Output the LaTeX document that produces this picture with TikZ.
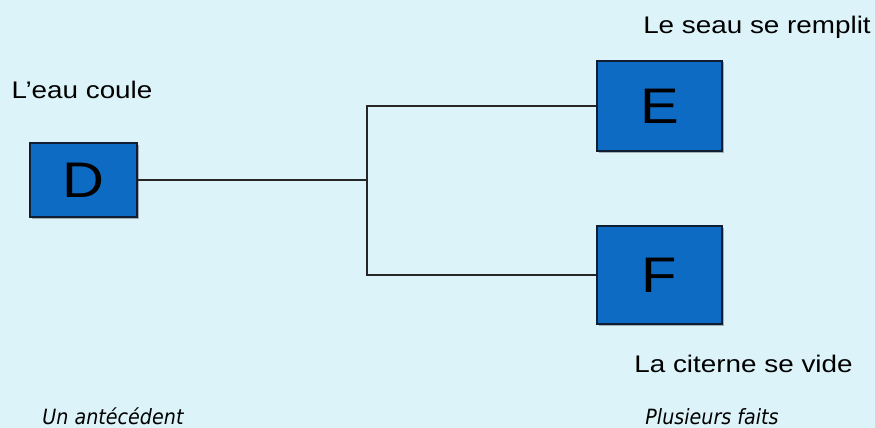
\documentclass[tikz,border=0pt]{standalone}
\usepackage{fontspec}
\usepackage{tikz}
\usetikzlibrary{positioning, calc, shadows}
\newfontfamily\labelfont[FakeStretch=1.16]{Liberation Sans}
\newfontfamily\notefont[FakeStretch=0.91]{DejaVu Sans}
\definecolor{bgCyan}{RGB}{220,244,249}
\definecolor{boxBlue}{RGB}{14,107,196}
\definecolor{boxEdge}{RGB}{15,30,50}

\tikzset{
    factbox/.style={draw=boxEdge, line width=1.2pt, fill=boxBlue, inner sep=0pt,
      drop shadow={shadow xshift=1.5pt, shadow yshift=-1.5pt, fill=gray, opacity=0.6},
      font=\labelfont\fontsize{50}{52}\selectfont},
    caption/.style={anchor=base, font=\labelfont\fontsize{24}{28}\selectfont},
    note/.style={anchor=base, font=\notefont\itshape\fontsize{21}{24}\selectfont},
    link/.style={line width=1.2pt, draw=black!85}
}

\begin{document}
\begin{tikzpicture}[x=1pt, y=-1pt]
    \fill[bgCyan] (0,0) rectangle (875,428);
    \useasboundingbox (0,0) rectangle (875,428);

    % boxes
    \node[factbox, minimum width=107pt, minimum height=74pt] (D) at (83.5,180) {D};
    \node[factbox, minimum width=125pt, minimum height=90pt] (E) at (659.5,106) {E};
    \node[factbox, minimum width=125pt, minimum height=98pt] (F) at (659.5,275) {F};

    % connectors
    \coordinate (split) at (367,181);
    \draw[link] (D.east) -- (D.east -| split);
    \draw[link] (E.west) -| (split) |- (F.west);

    % labels
    \node[caption] (flow) at (82,98) {L’eau coule};
    \node[caption] (bucket) at (757,34) {Le seau se remplit};
    \node[caption] (tank) at (743.5,372) {La citerne se vide};
    \node[note] (cause) at (113,424) {Un antécédent};
    \node[note] (facts) at (712,424) {Plusieurs faits};
\end{tikzpicture}
\end{document}
